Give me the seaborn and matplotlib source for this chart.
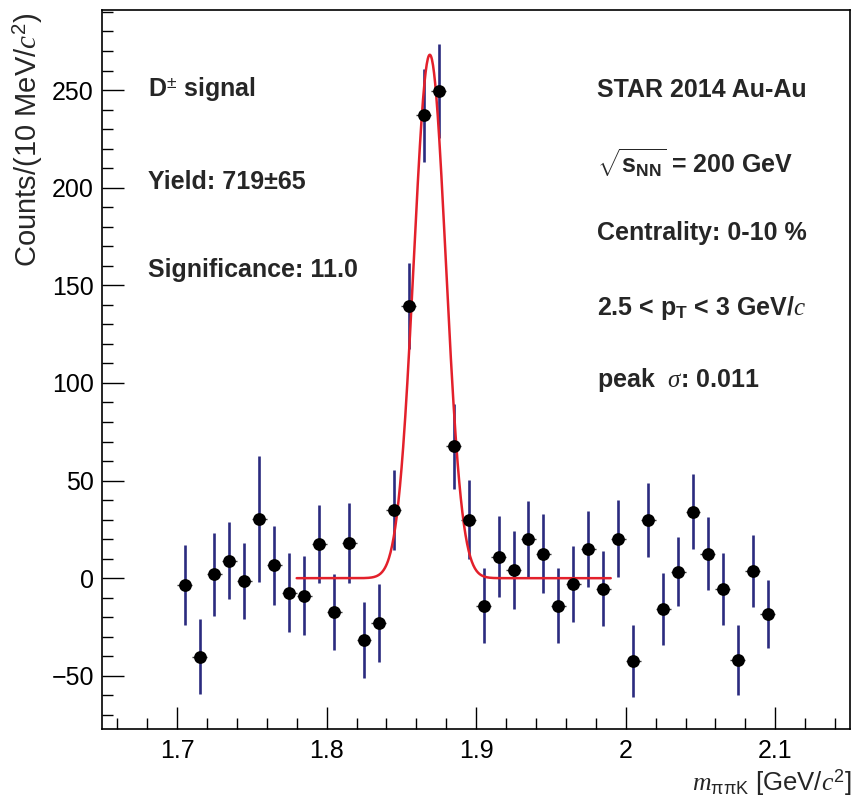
import numpy as np
import pandas as pd
import matplotlib
matplotlib.use("Agg")
import matplotlib.pyplot as plt
from matplotlib.ticker import MultipleLocator, FormatStrFormatter
import seaborn as sns

# Invariant-mass bins (centres, 10 MeV wide) and background-subtracted counts
mass = [1.705, 1.715, 1.725, 1.735, 1.745, 1.755, 1.765, 1.775, 1.785, 1.795,
        1.805, 1.815, 1.825, 1.835, 1.845, 1.855, 1.865, 1.875, 1.885, 1.895,
        1.905, 1.915, 1.925, 1.935, 1.945, 1.955, 1.965, 1.975, 1.985, 1.995,
        2.005, 2.015, 2.025, 2.035, 2.045, 2.055, 2.065, 2.075, 2.085, 2.095]
counts = [-3.4, -40.3, 2.0, 9.0, -1.4, 30.4, 6.7, -7.4, -8.9, 17.4,
          -17.4, 18.2, -31.8, -23.1, 35.0, 139.5, 237.0, 249.5, 67.5, 30.0,
          -14.0, 11.1, 4.3, 20.0, 12.6, -14.0, -2.9, 15.0, -5.3, 20.3,
          -42.4, 29.8, -15.9, 3.4, 34.1, 12.6, -5.5, -42.0, 3.6, -18.3]
errors = [20.5, 19.2, 21.3, 19.6, 19.6, 32.2, 20.2, 20.3, 20.3, 20.0,
          19.5, 20.5, 19.5, 19.9, 20.4, 22.0, 24.0, 24.0, 21.8, 20.3,
          19.2, 20.5, 20.1, 19.6, 20.1, 19.2, 19.4, 19.6, 19.0, 19.5,
          18.4, 19.0, 18.5, 17.9, 19.3, 18.6, 18.4, 17.8, 18.4, 17.5]

# Gaussian signal fit parameters
fit_yield = 719.0
fit_mean = 1.869
fit_sigma = 0.0107
fit_range = (1.78, 1.99)
bin_width = 0.01

df = pd.DataFrame({"mass": mass, "counts": counts, "err": errors})
xf = np.linspace(fit_range[0], fit_range[1], 600)
amp = fit_yield * bin_width / (fit_sigma * np.sqrt(2 * np.pi))
fit_df = pd.DataFrame({"mass": xf,
                       "counts": amp * np.exp(-0.5 * ((xf - fit_mean) / fit_sigma) ** 2)})

sns.set_theme(style="ticks")
plt.rcParams["font.family"] = ["Liberation Sans", "DejaVu Sans"]
plt.rcParams["mathtext.fontset"] = "custom"
plt.rcParams["mathtext.rm"] = "Liberation Sans"
plt.rcParams["mathtext.bf"] = "Liberation Sans:bold"
plt.rcParams["mathtext.it"] = "Liberation Serif:italic"
plt.rcParams["mathtext.sf"] = "Liberation Sans"

W, H = 852, 798
fig = plt.figure(figsize=(W / 100, H / 100), dpi=100)
ax = fig.add_axes([102.3 / W, 1 - 729.3 / H, (850 - 102.3) / W, (729.3 - 10) / H])

navy = "#2b2b7f"
ax.errorbar(df["mass"], df["counts"], yerr=df["err"], fmt="none",
            ecolor=navy, elinewidth=1.9, capsize=0, zorder=2)
ax.errorbar(df["mass"], df["counts"], xerr=bin_width / 2, fmt="none",
            ecolor="#333333", elinewidth=1.0, capsize=0, zorder=2)
sns.lineplot(data=fit_df, x="mass", y="counts", ax=ax, color="#e3202b",
             linewidth=1.8, zorder=3)
sns.scatterplot(data=df, x="mass", y="counts", ax=ax, color="black",
                s=85, edgecolor="black", linewidth=0, zorder=4)

ax.set_xlim(1.65, 2.15)
ax.set_ylim(-77.4, 291)
ax.xaxis.set_major_locator(MultipleLocator(0.1))
ax.xaxis.set_minor_locator(MultipleLocator(0.02))
ax.xaxis.set_major_formatter(FormatStrFormatter("%g"))
ax.yaxis.set_major_locator(MultipleLocator(50))
ax.yaxis.set_minor_locator(MultipleLocator(10))
ax.tick_params(which="both", direction="in", top=False, right=False,
               labelsize=18, colors="black")
ax.tick_params(which="major", length=16, width=1.0)
ax.tick_params(which="minor", length=8, width=1.0)
ax.tick_params(axis="x", pad=7)
ax.tick_params(axis="y", pad=6)
for sp in ax.spines.values():
    sp.set_linewidth(1.2)
    sp.set_color("black")
    sp.set_visible(True)
ax.set_xlabel("")
ax.set_ylabel("")

fig.text(28 / W, 1 - 12 / H, r"Counts/(10 MeV/$c^{2}$)", rotation=90,
         ha="center", va="top", fontsize=21)
fig.text(851 / W, 1 - 783 / H, r"$m_{\mathrm{\pi\pi K}}$ [GeV/$c^{2}$]",
         ha="right", va="center", fontsize=18.5)

def label(px, py, s):
    fig.text(px / W, 1 - py / H, s, ha="left", va="center",
             fontsize=18, fontweight="bold")

label(148, 90, r"D$^{\pm}$ signal")
label(148, 182, "Yield: 719\u00b165")
label(148, 270, "Significance: 11.0")
label(597, 90, "STAR 2014 Au-Au")
label(597, 163, r"$\sqrt{\mathbf{s}_{\mathbf{NN}}}$ = 200 GeV")
label(597, 233, "Centrality: 0-10 %")
label(597, 308, r"2.5 < $\mathbf{p}_{\mathbf{T}}$ < 3 GeV/$c$")
label(597, 380, r"peak  $\sigma$: 0.011")

fig.savefig("out.png", dpi=100, facecolor="white")
